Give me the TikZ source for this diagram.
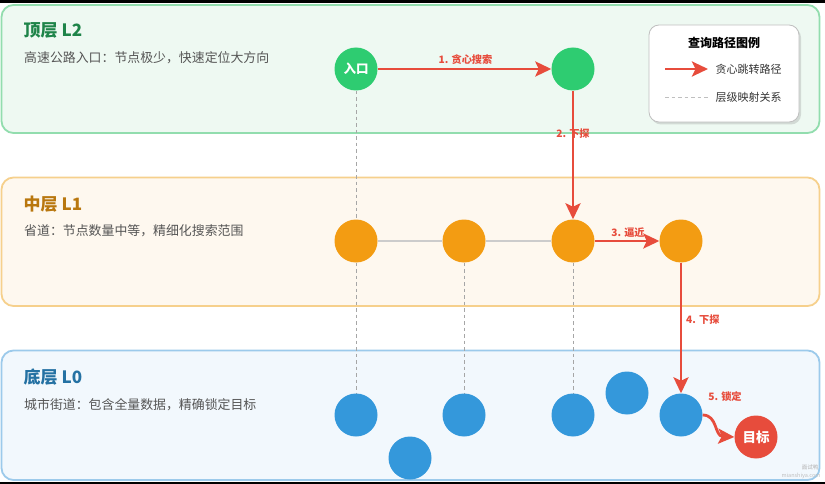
\documentclass[tikz,border=0pt]{standalone}
\usepackage{fontspec}
\setmainfont{Noto Sans CJK SC}
\usetikzlibrary{arrows.meta,shadows}
\definecolor{gnodec}{HTML}{2ECC71}
\definecolor{onodec}{HTML}{F39C12}
\definecolor{bnodec}{HTML}{3498DB}
\definecolor{redc}{HTML}{E74C3C}
\definecolor{gfill}{HTML}{EEF9F2}
\definecolor{gborder}{HTML}{92DDAE}
\definecolor{ofill}{HTML}{FEF8EF}
\definecolor{oborder}{HTML}{F6D08C}
\definecolor{bfill}{HTML}{F2F8FD}
\definecolor{bborder}{HTML}{9CCAEB}
\definecolor{gtitle}{HTML}{1E8449}
\definecolor{otitle}{HTML}{B9770E}
\definecolor{btitle}{HTML}{2471A3}
\definecolor{subgray}{HTML}{555555}
\pgfdeclarelayer{panels}
\pgfdeclarelayer{edges}
\pgfsetlayers{panels,edges,main}
\tikzset{
  panel/.style={line width=1.8pt, rounded corners=12pt},
  dot/.style={circle, minimum size=43pt, inner sep=0pt, text=white,
    font=\bfseries\fontsize{12.5}{13}\selectfont},
  gdot/.style={dot, fill=gnodec},
  odot/.style={dot, fill=onodec},
  bdot/.style={dot, fill=bnodec},
  tdot/.style={dot, fill=redc},
  layertitle/.style={anchor=west, inner sep=0pt, font=\bfseries\fontsize{17}{18}\selectfont},
  layersub/.style={anchor=west, inner sep=0pt, text=subgray, font=\fontsize{12.9}{13}\selectfont},
  redarrow/.style={draw=redc, line width=2.8pt, -{Stealth[length=16pt,width=15pt,inset=3.5pt]}},
  steplabel/.style={inner sep=0pt, text=redc, font=\bfseries\fontsize{10.2}{11}\selectfont},
  maplink/.style={draw=black!35, line width=0.8pt, dash pattern=on 3.5pt off 3pt},
  l1link/.style={draw=black!20, line width=1.6pt},
  legendbox/.style={draw=black!25, line width=0.8pt, fill=white, rounded corners=10pt,
    minimum width=150pt, minimum height=97pt, inner sep=0pt,
    drop shadow={opacity=0.25, shadow xshift=2pt, shadow yshift=-2.5pt}},
  legendtext/.style={anchor=west, inner sep=0pt, text=black!80, font=\fontsize{11}{12}\selectfont}
}
\begin{document}
\begin{tikzpicture}[x=1pt,y=-1pt]
\useasboundingbox (0,0) rectangle (825,484);
\begin{pgfonlayer}{panels}
\fill[white] (0,0) rectangle (825,484);
\fill[black] (0,0) rectangle (825,3);
\fill[black] (0,481.5) rectangle (825,484);
\draw[panel, draw=gborder, fill=gfill] (1.5,5) rectangle (819.5,133);
\draw[panel, draw=oborder, fill=ofill] (1.5,177.5) rectangle (819.5,306);
\draw[panel, draw=bborder, fill=bfill] (1.5,350.5) rectangle (819.5,480);
\end{pgfonlayer}

% titles
\node[layertitle, text=gtitle] (t2) at (23.5,30.5) {顶层 L2};
\node[layersub] (s2) at (24,57.5) {高速公路入口：节点极少，快速定位大方向};
\node[layertitle, text=otitle] (t1) at (23.5,204.5) {中层 L1};
\node[layersub] (s1) at (24,231) {省道：节点数量中等，精细化搜索范围};
\node[layertitle, text=btitle] (t0) at (23.5,377) {底层 L0};
\node[layersub] (s0) at (24,405) {城市街道：包含全量数据，精确锁定目标};

% nodes L2
\node[gdot] (e) at (356,69) {入口};
\node[gdot] (g2) at (573,69) {};
% nodes L1
\node[odot] (m1) at (356,241) {};
\node[odot] (m2) at (464,241) {};
\node[odot] (m3) at (573,241) {};
\node[odot] (m4) at (681,241) {};
% nodes L0
\node[bdot] (b1) at (356,415) {};
\node[bdot] (b2) at (410,458) {};
\node[bdot] (b3) at (464,415) {};
\node[bdot] (b4) at (573,415) {};
\node[bdot] (b5) at (627,393) {};
\node[bdot] (b6) at (681,415) {};
\node[tdot, font=\bfseries\fontsize{13.5}{14}\selectfont] (tg) at (756,437) {目标};

\begin{pgfonlayer}{edges}
\draw[maplink] (e) -- (m1);
\draw[maplink] (m1) -- (b1);
\draw[maplink] (m2) -- (b3);
\draw[maplink] (m3) -- (b4);
\draw[l1link] (m1) -- (m2);
\draw[l1link] (m2) -- (m3);
\end{pgfonlayer}

% search path
\draw[redarrow] (e) -- (g2);
\draw[redarrow] (g2) -- (m3);
\draw[redarrow] (m3) -- (m4);
\draw[redarrow] (m4) -- (b6);
\draw[redarrow] (b6.east) .. controls +(15,0) and +(-20,-1) .. (tg.west);

\node[steplabel] (l1) at (465.5,60) {1. 贪心搜索};
\node[steplabel] (l2) at (573,134) {2. 下探};
\node[steplabel] (l3) at (628,233) {3. 逼近};
\node[steplabel, anchor=west] (l4) at (686,320) {4. 下探};
\node[steplabel] (l5) at (725,397) {5. 锁定};

% legend
\node[legendbox] (leg) at (724,73.5) {};
\node[inner sep=0pt, font=\bfseries\fontsize{12}{13}\selectfont] (legt) at (724,43) {查询路径图例};
\coordinate (la) at (665,69);
\coordinate (lb) at (708,69);
\draw[redarrow] (la) -- (lb);
\node[legendtext] (lt1) at (715.5,69) {贪心跳转路径};
\coordinate (lc) at (665,97);
\coordinate (ld) at (708,97);
\draw[draw=black!25, line width=0.8pt, dash pattern=on 3.5pt off 3pt] (lc) -- (ld);
\node[legendtext] (lt2) at (715.5,97) {层级映射关系};

% watermark
\node[inner sep=0pt, text=black!30, font=\fontsize{5.5}{6}\selectfont] (wm1) at (810,467) {面试鸭};
\node[inner sep=0pt, text=black!25, font=\fontsize{5.5}{6}\selectfont] (wm2) at (801,475.5) {mianshiya.com};
\end{tikzpicture}
\end{document}
